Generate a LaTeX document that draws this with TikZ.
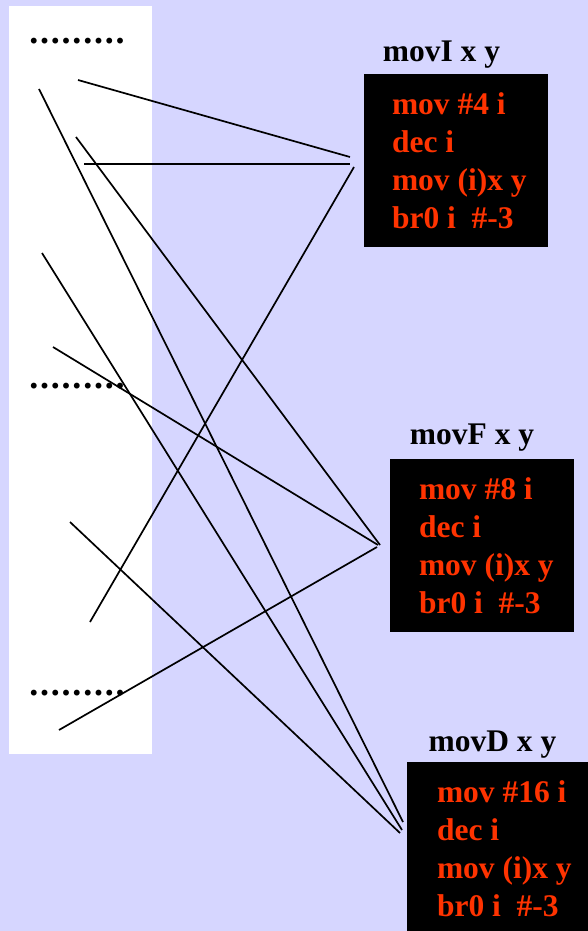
\documentclass[tikz,border=0pt]{standalone}
\usepackage{fontspec}
\setmainfont{Liberation Serif}
\definecolor{slide}{RGB}{214,214,255}
\definecolor{codered}{RGB}{255,51,0}

\begin{document}
\begin{tikzpicture}[
        x=1pt, y=-1pt,
        every node/.style={font=\fontsize{31.5}{38}\selectfont\bfseries},
        title/.style={inner sep=0pt},
        dots/.style={inner sep=0pt, font=\fontsize{36}{38}\selectfont\bfseries\addfontfeature{LetterSpace=5}},
        codebox/.style={rectangle, fill=black, minimum width=184pt, minimum height=173pt, inner sep=0pt},
        code/.style={text=codered, align=left, anchor=west, inner sep=0pt},
        link/.style={black, line width=1.7pt}
    ]
    \useasboundingbox (0,0) rectangle (588,931);
    \fill[slide] (0,0) rectangle (588,931);
    \fill[white] (9,6) rectangle (152,754);

    % program text on the left
    \node[dots] (dots1) at (77,41)  {.........};
    \node[dots] (dots2) at (77,386) {.........};
    \node[dots] (dots3) at (77,693) {.........};

    % macro definitions
    \node[title] (tI) at (441.5,55) {movI x y};
    \node[codebox] (movI) at (456,160.5) {};
    \node[code] (codeI) at ([xshift=28pt]movI.west) {mov \#4 i\\dec i\\mov (i)x y\\br0 i~ \#-3};

    \node[title] (tF) at (472,438) {movF x y};
    \node[codebox] (movF) at (482,545.5) {};
    \node[code] (codeF) at ([xshift=29pt]movF.west) {mov \#8 i\\dec i\\mov (i)x y\\br0 i~ \#-3};

    \node[title] (tD) at (492.5,745) {movD x y};
    \node[codebox] (movD) at (499,848.5) {};
    \node[code] (codeD) at ([xshift=30pt]movD.west) {mov \#16 i\\dec i\\mov (i)x y\\br0 i~ \#-3};

    % call sites
    \coordinate (call1) at (78,80);
    \coordinate (call2) at (39,89);
    \coordinate (call3) at (76,137);
    \coordinate (call4) at (84,164);
    \coordinate (call5) at (42,253);
    \coordinate (call6) at (53,347);
    \coordinate (call7) at (70,522);
    \coordinate (call8) at (90,622);
    \coordinate (call9) at (59,730);

    % ends next to the definitions
    \coordinate (inI1) at (350,157);
    \coordinate (inI2) at (350,164);
    \coordinate (inI3) at (354,167);
    \coordinate (inF1) at (380,545);
    \coordinate (inF2) at (378,545);
    \coordinate (inF3) at (377,547);
    \coordinate (inD1) at (403,822);
    \coordinate (inD2) at (402,830);
    \coordinate (inD3) at (400,833);

    \draw[link] (call1) -- (inI1);
    \draw[link] (call4) -- (inI2);
    \draw[link] (call8) -- (inI3);
    \draw[link] (call3) -- (inF1);
    \draw[link] (call6) -- (inF2);
    \draw[link] (call9) -- (inF3);
    \draw[link] (call2) -- (inD1);
    \draw[link] (call5) -- (inD2);
    \draw[link] (call7) -- (inD3);
    \end{tikzpicture}
\end{document}
